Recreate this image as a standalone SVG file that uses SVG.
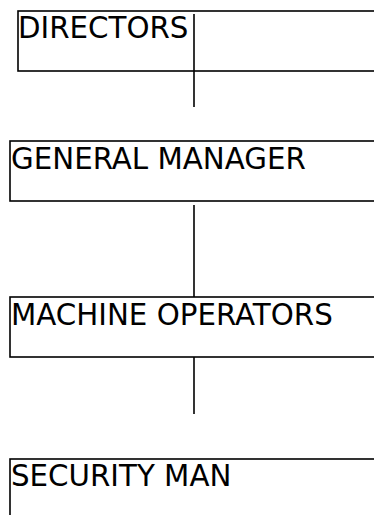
<svg xmlns="http://www.w3.org/2000/svg" width="374" height="515" viewBox="0 0 374 515">
<style>
.box{fill:none;stroke:#000;stroke-width:1.6}
.lbl{font-family:"DejaVu Sans",sans-serif;font-size:29.3px;fill:#000}
.conn{stroke:#000;stroke-width:1.6;fill:none}
</style>
<rect width="374" height="515" fill="#fff"/>
<g id="connectors">
<line class="conn" x1="194" y1="14" x2="194" y2="107"/>
<line class="conn" x1="194" y1="205" x2="194" y2="297"/>
<line class="conn" x1="194" y1="357" x2="194" y2="414"/>
</g>
<g id="directors">
<rect class="box" x="18" y="11" width="380" height="60"/>
<text class="lbl" x="18" y="37.5">DIRECTORS</text>
</g>
<g id="general-manager">
<rect class="box" x="10" y="141" width="380" height="60"/>
<text class="lbl" x="11" y="168.5">GENERAL MANAGER</text>
</g>
<g id="machine-operators">
<rect class="box" x="10" y="297" width="380" height="60"/>
<text class="lbl" x="11" y="324.5">MACHINE OPERATORS</text>
</g>
<g id="security-man">
<rect class="box" x="10" y="459" width="380" height="60"/>
<text class="lbl" x="11" y="486">SECURITY MAN</text>
</g>
</svg>
